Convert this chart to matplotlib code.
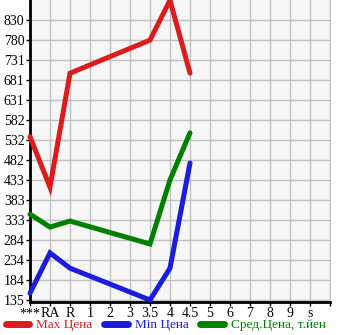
import numpy as np
import matplotlib
matplotlib.use("Agg")
import matplotlib.pyplot as plt

# categories on the x axis
categories = ["***", "RA", "R", "1", "2", "3", "3.5", "4", "4.5", "5", "6", "7", "8", "9", "s"]
y_ticks = [135, 184, 234, 284, 333, 383, 433, 482, 532, 582, 631, 681, 731, 780, 830]

# series values (None = no data for that category)
max_price = [540, 415, 698, None, None, None, 780, 879, 698, None, None, None, None, None, None]
min_price = [152, 252, 214, None, None, None, 135, 214, 475, None, None, None, None, None, None]
avg_price = [348, 316, 331, None, None, None, 274, 433, 550, None, None, None, None, None, None]

series = [
    ("Max Цена", max_price, "#dc1c1c"),
    ("Min Цена", min_price, "#1c1cdc"),
    ("Сред.Цена, т.йен", avg_price, "#008000"),
]

plt.rcParams["font.family"] = ["Liberation Serif", "DejaVu Serif"]

fig = plt.figure(figsize=(3.45, 3.35), dpi=100)
ax = fig.add_axes([30 / 345, 1 - 301.5 / 335, 300 / 345, 301.5 / 335])
ax.set_facecolor("#f6f6f6")

for label, values, color in series:
    xs = [i for i, v in enumerate(values) if v is not None]
    ys = [v for v in values if v is not None]
    ax.plot(xs, ys, color=color, lw=3.6, solid_capstyle="round",
            solid_joinstyle="miter", label=label, clip_on=False, zorder=3)

ax.set_xlim(0, 15)
ax.set_ylim(131.3, 879.6)
ax.set_xticks(range(16))
ax.set_xticklabels(categories + [""], fontsize=10)
ax.set_yticks(y_ticks)
ax.set_yticklabels([str(v) for v in y_ticks], fontsize=10)
ax.grid(True, color="#c0c0c0", lw=1)
ax.set_axisbelow(True)
ax.tick_params(axis="both", length=3, width=1, color="black", pad=1)

ax.spines["top"].set_visible(False)
ax.spines["right"].set_color("#c0c0c0")
ax.spines["left"].set_linewidth(2)
ax.spines["bottom"].set_linewidth(2)

leg = fig.legend(loc="lower center", bbox_to_anchor=(0.48, -0.005), ncol=3,
                 frameon=False, fontsize=9.5, handlelength=1.8, handletextpad=0.5,
                 columnspacing=0.9, borderaxespad=0)
for text, (_, _, color) in zip(leg.get_texts(), series):
    text.set_color(color)
for line in leg.get_lines():
    line.set_linewidth(5)

fig.savefig("out.png", dpi=100)
